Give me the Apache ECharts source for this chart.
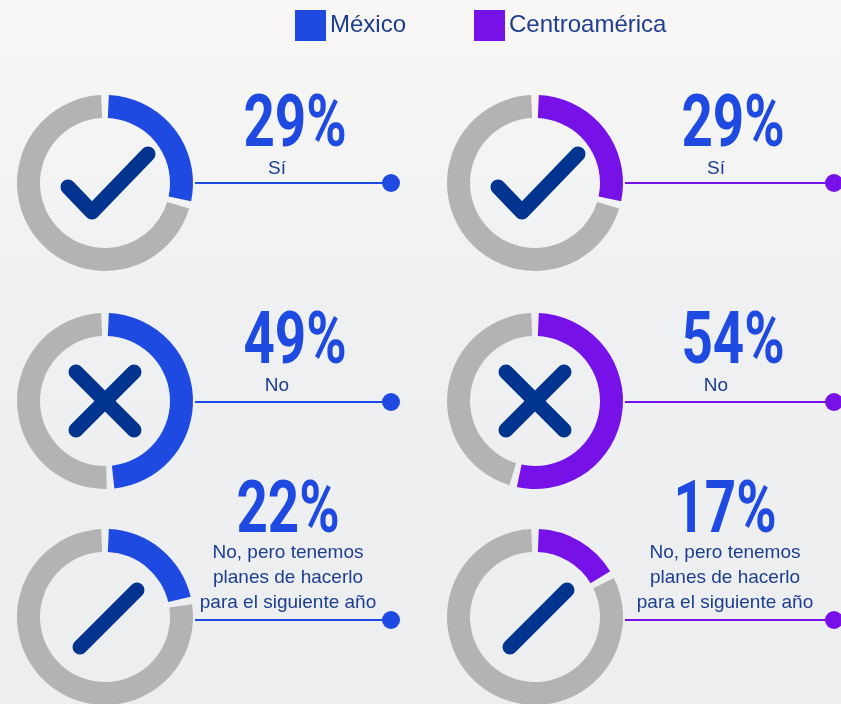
<!DOCTYPE html>
<html>
<head>
<meta charset="utf-8">
<script src="https://cdn.jsdelivr.net/npm/echarts@6/dist/echarts.min.js"></script>
<style>
  html, body { margin: 0; padding: 0; }
  #main { width: 841px; height: 704px; }
</style>
</head>
<body>
<div id="main"></div>
<script>
// answers and shares
const regions = ['México', 'Centroamérica'];
const answers = ['Sí', 'No', 'No, pero tenemos\nplanes de hacerlo\npara el siguiente año'];
const mexico = [29, 49, 22];
const centroamerica = [29, 54, 17];
const icons = ['check', 'cross', 'slash'];

const BLUE = '#1f4ae1';
const PURPLE = '#7612e8';
const GREY = '#b3b3b3';
const NAVY = '#00348e';
const TEXT = '#1d3d8f';

const colX = [105, 535];
const rowY = [183, 401, 617];
const lineY = [183, 402, 620];
const R_IN = 65, R_OUT = 88;
const colors = [BLUE, PURPLE];
const values = [mexico, centroamerica];

// where the big number / answer text sit, per column and row
const pctX = [[295, 295, 288], [733, 733, 725]];
const pctY = [128, 345, 514];
const ansX = [[277, 277, 288], [716, 716, 725]];
const ansY = [169, 386, 578];
const dotX = [391, 834];

const chart = echarts.init(document.getElementById('main'));

const series = [];
const graphic = [];

const iconShapes = {
  check: [[-37, 4], [-13, 29], [43, -29]],
  cross: [[[-29, -29], [29, 29]], [[-29, 29], [29, -29]]],
  slash: [[-25, 30], [32, -27]]
};

values.forEach((vals, c) => {
  vals.forEach((v, r) => {
    series.push({
      type: 'pie',
      silent: true,
      center: [colX[c], rowY[r]],
      radius: [R_IN, R_OUT],
      startAngle: 90,
      padAngle: 5,
      label: { show: false },
      labelLine: { show: false },
      data: [
        { name: regions[c], value: v, itemStyle: { color: colors[c] } },
        { name: 'resto', value: 100 - v, itemStyle: { color: GREY } }
      ]
    });

    const cx = colX[c], cy = rowY[r];
    // connector line + dot
    graphic.push({
      type: 'line', silent: true,
      shape: { x1: cx + R_OUT + 2, y1: lineY[r], x2: dotX[c], y2: lineY[r] },
      style: { stroke: colors[c], lineWidth: 2 }
    });
    graphic.push({
      type: 'circle', silent: true,
      shape: { cx: dotX[c], cy: lineY[r], r: 9 },
      style: { fill: colors[c] }
    });

    // icon in the hole
    const ic = icons[r];
    const lines = ic === 'cross' ? iconShapes.cross : [iconShapes[ic]];
    lines.forEach(pts => {
      graphic.push({
        type: 'polyline', silent: true,
        shape: { points: pts.map(p => [cx + p[0], cy + p[1]]) },
        style: { stroke: NAVY, lineWidth: 15, lineCap: 'round', lineJoin: 'round', fill: null }
      });
    });

    // big percentage
    graphic.push({
      type: 'text', silent: true,
      x: pctX[c][r], y: pctY[r], scaleX: 0.76,
      style: {
        text: v + '%', fill: BLUE, align: 'center', verticalAlign: 'middle',
        font: 'bold 72px Roboto'
      }
    });
    // answer text
    graphic.push({
      type: 'text', silent: true,
      x: ansX[c][r], y: ansY[r],
      style: {
        text: answers[r], fill: TEXT, align: 'center', verticalAlign: 'middle',
        font: '19px "Liberation Sans"', lineHeight: 25
      }
    });
  });
});

chart.setOption({
  backgroundColor: {
    type: 'linear', x: 0, y: 0, x2: 0, y2: 1,
    colorStops: [
      { offset: 0, color: '#f8f7f5' },
      { offset: 0.45, color: '#eef0f2' },
      { offset: 1, color: '#eceef0' }
    ]
  },
  legend: {
    data: regions,
    left: 290,
    top: 5,
    icon: 'rect',
    itemWidth: 31,
    itemHeight: 31,
    itemGap: 68,
    selectedMode: false,
    textStyle: { fontSize: 24, color: TEXT, fontFamily: 'Liberation Sans', padding: [0, 0, 0, -1] }
  },
  series: series,
  graphic: graphic
});
</script>
</body>
</html>
